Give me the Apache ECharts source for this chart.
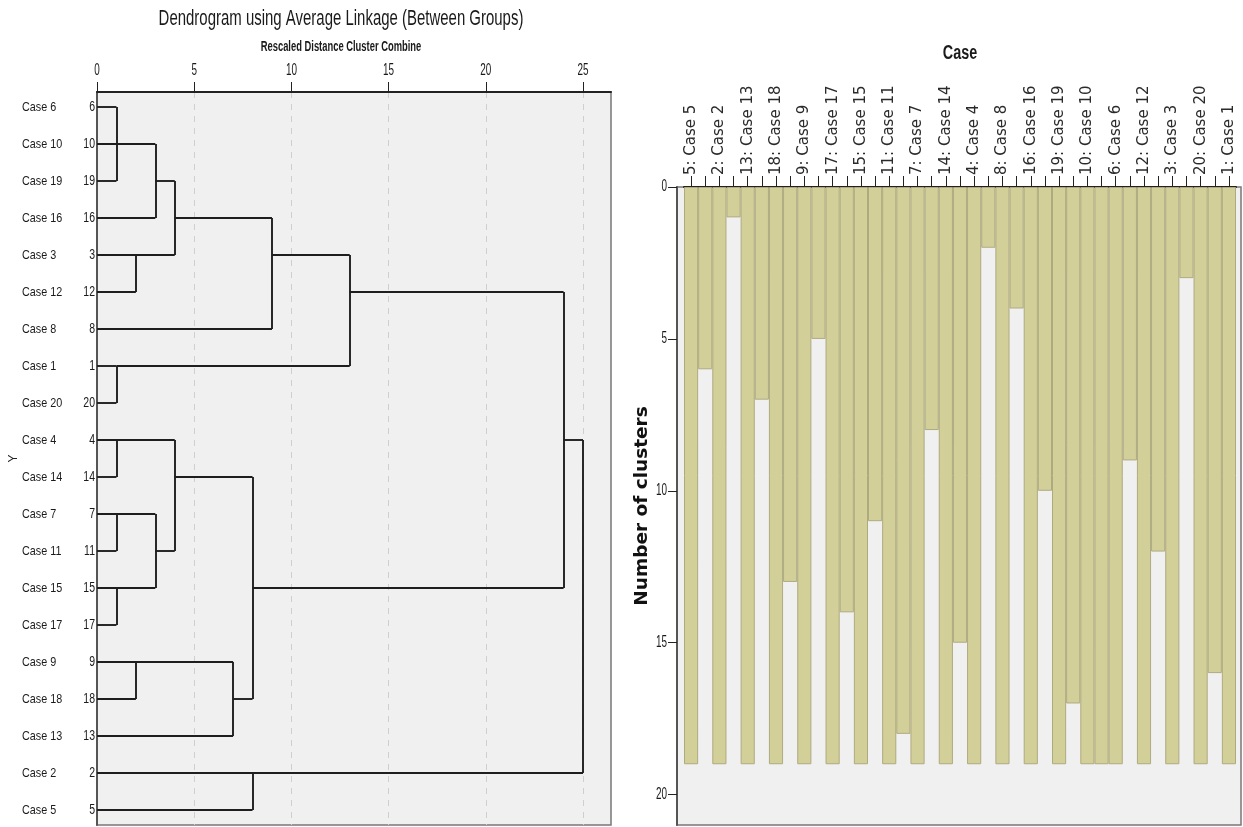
<!DOCTYPE html>
<html><head><meta charset="utf-8">
<script src="https://cdn.jsdelivr.net/npm/echarts@6/dist/echarts.min.js"></script>
<style>html,body{margin:0;padding:0;background:#fff}#c{width:1243px;height:827px}</style>
</head><body><div id="c"></div>
<script>
// ---------- Dendrogram data ----------
const leafNames = ['Case 6','Case 10','Case 19','Case 16','Case 3','Case 12','Case 8','Case 1','Case 20','Case 4',
  'Case 14','Case 7','Case 11','Case 15','Case 17','Case 9','Case 18','Case 13','Case 2','Case 5'];
const leafIds = [6,10,19,16,3,12,8,1,20,4,14,7,11,15,17,9,18,13,2,5];
// merges: [rowA, startA, rowB, startB, rescaledDistance]
const merges = [
  [0,0,2,0,1],[1,0,3,0,3],[4,0,5,0,2],[2,3,4,0,4],[3,4,6,0,9],[7,0,8,0,1],[4,9,7,1,13],
  [9,0,10,0,1],[11,0,12,0,1],[13,0,14,0,1],[11,0,13,0,3],[9,0,12,3,4],
  [15,0,16,0,2],[15,0,17,0,7],[10,4,16,7,8],[5,13,13,8,24],[18,0,19,0,8],[9,24,18,0,25]
];
const distTicks = [0,5,10,15,20,25];

// ---------- Icicle data ----------
const icicleCases = ['5: Case 5','2: Case 2','13: Case 13','18: Case 18','9: Case 9','17: Case 17','15: Case 15',
  '11: Case 11','7: Case 7','14: Case 14','4: Case 4','8: Case 8','16: Case 16','19: Case 19','10: Case 10',
  '6: Case 6','12: Case 12','3: Case 3','20: Case 20','1: Case 1'];
const caseDepth = [19,19,19,19,19,19,19,19,19,19,19,19,19,19,19,19,19,19,19,19];
const gapDepth = [6,1,7,13,5,14,11,18,8,15,2,4,10,17,19,9,12,3,16];
const clusterTicks = [0,5,10,15,20];

// ---------- build ----------
const segs = [];
merges.forEach(([a,sa,b,sb,d]) => {
  segs.push({coords:[[sa,a],[d,a]]});
  segs.push({coords:[[sb,b],[d,b]]});
  segs.push({coords:[[d,a],[d,b]]});
});
const icCats = [], icVals = [];
icicleCases.forEach((c,i) => {
  icCats.push(c); icVals.push(caseDepth[i]);
  if (i < gapDepth.length) { icCats.push(''); icVals.push(gapDepth[i]); }
});

const ARIAL = "'Liberation Sans', Arial, sans-serif";
function txt(text, x, y, sx, font, align, vAlign) {
  return {type:'text', x, y, scaleX: sx, style:{text: String(text), x:0, y:0, font, align, verticalAlign: vAlign, fill:'#1a1a1a'}};
}

const chart = echarts.init(document.getElementById('c'));
chart.setOption({
  animation: false,
  backgroundColor: '#fff',
  graphic: [
    txt('Dendrogram using Average Linkage (Between Groups)', 341, 19, 0.68, "22px "+ARIAL, 'center', 'middle'),
    txt('Rescaled Distance Cluster Combine', 341, 47.5, 0.67, "bold 14px "+ARIAL, 'center', 'middle'),
    txt('Case', 960, 53, 0.72, "bold 20px "+ARIAL, 'center', 'middle')
  ],
  grid: [
    {left:97, top:92, width:514, height:733, show:true, backgroundColor:'#f0f0f0', borderColor:'#777', borderWidth:1.5},
    {left:97, top:107, width:514, height:703},
    {left:677, top:187, width:564, height:638, show:true, backgroundColor:'#f0f0f0', borderColor:'#777', borderWidth:1.5},
    {left:684, top:187, width:552, height:638}
  ],
  xAxis: [
    {gridIndex:0, type:'value', position:'top', min:0, max:26.44, interval:5,
     axisLine:{show:true, lineStyle:{color:'#222', width:2}},
     axisTick:{show:true, length:10, lineStyle:{color:'#222'}, customValues: distTicks},
     axisLabel:{show:false},
     splitLine:{show:true, lineStyle:{type:[6,6], color:'#cfcfcf'}}},
    {gridIndex:1, type:'value', min:0, max:26.44, show:false},
    {gridIndex:2, type:'value', min:0, max:1, show:false},
    {gridIndex:3, type:'category', position:'top', data: icCats,
     axisLine:{show:true, lineStyle:{color:'#222', width:2}},
     axisTick:{show:true, interval:0, alignWithLabel:true, length:11, lineStyle:{color:'#222'}},
     axisLabel:{interval:0, rotate:90, fontFamily:'DejaVu Sans', fontSize:15, color:'#2a2a2a', margin:12},
     splitLine:{show:false}}
  ],
  yAxis: [
    {gridIndex:0, type:'value', min:0, max:1, inverse:true,
     name:'Y', nameLocation:'middle', nameGap:77, nameRotate:90, nameTextStyle:{fontFamily:ARIAL, fontSize:12, color:'#222'},
     axisLine:{show:true, lineStyle:{color:'#555', width:2}}, axisTick:{show:false}, axisLabel:{show:false}, splitLine:{show:false}},
    {gridIndex:1, type:'value', min:0, max:19, interval:1, inverse:true, show:false},
    {gridIndex:2, type:'value', min:0, max:21, inverse:true,
     name:'Number of clusters', nameLocation:'middle', nameGap:25, nameRotate:90,
     nameTextStyle:{fontFamily:'DejaVu Sans', fontWeight:'bold', fontSize:18.5, color:'#111'},
     axisLine:{show:true, lineStyle:{color:'#555', width:2}},
     axisTick:{show:true, length:9, customValues: clusterTicks, lineStyle:{color:'#222'}},
     axisLabel:{show:false}, splitLine:{show:false}},
    {gridIndex:3, type:'value', min:0, max:21, inverse:true, show:false}
  ],
  series: [
    {type:'lines', coordinateSystem:'cartesian2d', xAxisIndex:1, yAxisIndex:1, polyline:false,
     lineStyle:{color:'#1e1e1e', width:1.9, opacity:1}, data: segs, silent:true},
    // row labels (case name + case number) placed on the row scale
    {type:'custom', xAxisIndex:1, yAxisIndex:1, clip:false, silent:true,
     data: leafIds.map((id,i) => [0,i]),
     renderItem: (params, api) => {
       const p = api.coord([api.value(0), api.value(1)]);
       const i = params.dataIndex;
       return {type:'group', children:[
         txt(leafNames[i], p[0]-75, p[1], 0.8, "13.5px "+ARIAL, 'left', 'middle'),
         txt(leafIds[i], p[0]-2, p[1], 0.75, "14px "+ARIAL, 'right', 'middle')
       ]};
     }},
    // distance tick labels
    {type:'custom', xAxisIndex:0, yAxisIndex:0, clip:false, silent:true,
     data: distTicks.map(v => [v,0]),
     renderItem: (params, api) => {
       const p = api.coord([api.value(0), api.value(1)]);
       return txt(api.value(0), p[0], p[1]-21, 0.62, "16px "+ARIAL, 'center', 'middle');
     }},
    {type:'bar', xAxisIndex:3, yAxisIndex:3, data: icVals, barWidth:'100%', barCategoryGap:0,
     itemStyle:{color:'#d3cf99', borderColor:'#aeaa80', borderWidth:1}, silent:true},
    // number-of-clusters tick labels
    {type:'custom', xAxisIndex:2, yAxisIndex:2, clip:false, silent:true,
     data: clusterTicks.map(v => [0,v]),
     renderItem: (params, api) => {
       const p = api.coord([api.value(0), api.value(1)]);
       return txt(api.value(1), p[0]-10, p[1], 0.62, "16px "+ARIAL, 'right', 'middle');
     }}
  ]
});
</script></body></html>
